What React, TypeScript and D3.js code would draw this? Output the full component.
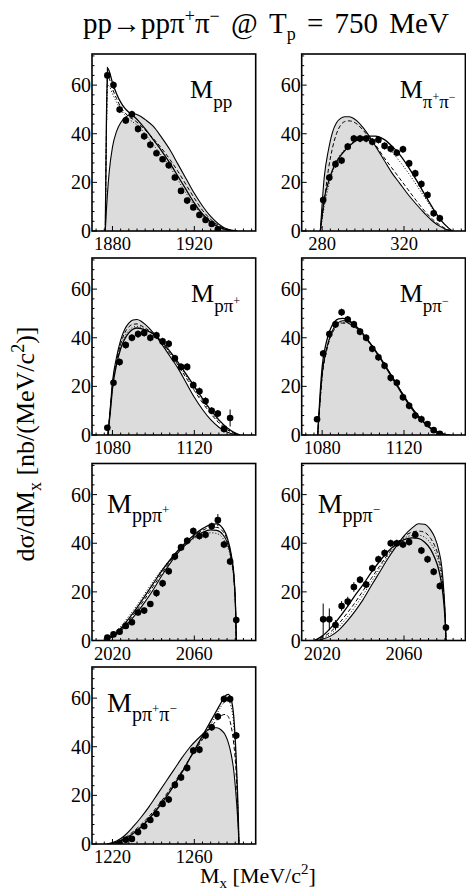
import React, { useEffect, useRef } from "react";
import * as d3 from "d3";

// ---------- data ----------
// M_pp
const ppMass = [1877.5, 1880.5, 1883.5, 1886.5, 1889.5, 1892.5, 1895.5, 1898.5, 1901.5, 1904.5, 1907.5, 1910.5, 1913.5, 1916.5, 1919.5, 1922.5, 1925.5, 1928.5, 1931.5];
const ppCount = [64, 60, 50, 45.5, 48, 42, 39, 35.5, 32, 29.5, 27, 22, 16.5, 12.5, 9.7, 6.6, 4.5, 2.9, 0.7];
const ppErr = [3.5, 1.5, 1.5, 1.5, 1.5, 1.5, 1.5, 1.5, 1.2, 1.2, 1.2, 1.2, 1.2, 1.2, 1, 1, 1, 1, 1];
const ppGrid = [1876.5, 1877, 1877.6, 1878.5, 1880, 1882, 1884, 1886, 1888, 1890, 1893, 1896, 1900, 1904, 1908, 1912, 1916, 1920, 1924, 1928, 1932, 1936, 1941];
const ppPhase = [0, 8, 16, 25, 34.5, 41, 44.5, 46.5, 47.7, 48.3, 47.5, 45.8, 43, 38.5, 33.5, 27.5, 21.5, 15.5, 10.3, 6, 2.8, 0.8, 0];
const ppSolid = [0, 42, 67, 65.5, 61, 56.5, 53, 50.5, 48.8, 47.5, 45, 42, 37.5, 33, 28, 22.5, 17, 11.5, 7, 3.8, 1.6, 0.5, 0];
const ppDashed = [0, 38, 63.5, 62.5, 58.5, 54.5, 51, 48.8, 47, 46, 44, 41.5, 38, 34, 29.5, 24.5, 19, 13.5, 8.5, 4.8, 2.2, 0.7, 0];
const ppDotted = [0, 36, 60, 59.5, 56.5, 53, 50, 47.8, 46, 44.8, 42.8, 39.8, 35.5, 31, 26.5, 21, 15.5, 10.5, 6.3, 3.3, 1.3, 0.4, 0];

// M_pi+pi-
const pipiMass = [280.5, 283.5, 286.5, 289.5, 292.5, 295.5, 298.5, 301.5, 304.5, 307.5, 310.5, 313.5, 316.5, 319.5, 322.5, 325.5, 328.5, 331.5, 334.5, 337.5];
const pipiCount = [12.7, 22, 27.5, 29, 34.7, 38, 38, 38, 36.7, 37.5, 35, 33.8, 32.2, 33.6, 27.8, 23.7, 19.3, 14.8, 7.3, 5.2];
const pipiErr = [1.5, 1.5, 1.5, 1.5, 1.5, 1.5, 1.5, 1.5, 1.5, 1.5, 1.5, 1.5, 1.5, 1.5, 1.5, 1.5, 1.5, 1.5, 1.5, 1.5];
const pipiGrid = [279.1, 281, 283, 285, 287, 289, 291, 293, 295, 297, 300, 303, 306, 310, 314, 318, 322, 326, 330, 334, 338, 341, 343.6];
const pipiPhase = [0, 22, 33, 40.5, 44.5, 46.3, 47, 47, 46.5, 45.3, 42.5, 39, 35, 29.5, 24, 19.5, 15, 11, 7.3, 4, 1.7, 0.5, 0];
const pipiSolid = [0, 13, 20, 25, 28.5, 31, 33, 34.8, 36.2, 37.3, 38.5, 39, 39, 37.8, 35, 31.3, 26.5, 21, 15.2, 9.5, 4.5, 1.8, 0];
const pipiDashed = [0, 12, 25, 34, 40, 43.5, 45, 45.3, 45, 44, 41.5, 38.5, 35.5, 30.5, 26, 21.5, 17, 12.5, 8.3, 4.8, 2.2, 0.7, 0];
const pipiDotted = [0, 10, 18, 24, 28.5, 31.5, 33.5, 35.3, 36.5, 37.3, 38, 38, 37.5, 35.5, 32.5, 28.5, 24, 19, 14, 9, 4.5, 1.8, 0];

// M_p pi+
const ppipMass = [1077.5, 1080.5, 1083.5, 1086.5, 1089.5, 1092.5, 1095.5, 1098.5, 1101.5, 1104.5, 1107.5, 1110.5, 1113.5, 1116.5, 1119.5, 1122.5, 1125.5, 1128.5, 1131.5, 1134.5, 1137.5];
const ppipCount = [3, 21.5, 30, 37, 40, 41.5, 42, 40, 41, 38.5, 37.5, 31.5, 28, 28, 20.5, 18, 14, 10, 8.8, 2.5, 7];
const ppipErr = [1.2, 1.5, 1.5, 1.5, 1.5, 1.5, 1.5, 1.5, 1.5, 1.5, 1.5, 1.5, 1.5, 1.5, 1.5, 1.5, 1.5, 1.5, 1.5, 1.5, 3.5];
const ppipGrid = [1077.8, 1079, 1080, 1082, 1084, 1086, 1088, 1090, 1092, 1094, 1096, 1100, 1104, 1108, 1112, 1116, 1120, 1124, 1128, 1132, 1136, 1140, 1142.3];
const ppipPhase = [0, 12, 22, 32, 39, 43.5, 46, 47.3, 47.5, 46.8, 45.5, 42, 37.5, 32.5, 27.5, 21.5, 15.5, 10.5, 6.3, 3.2, 1.2, 0.2, 0];
const ppipSolid = [0, 10, 19, 29, 35.5, 39.5, 42, 43.5, 44, 43.8, 43.2, 41.5, 38.5, 34.5, 30, 25, 20, 15, 10.3, 6.2, 3, 0.8, 0];
const ppipDashed = [0, 11, 20.5, 30.5, 37.5, 42, 44.5, 45.5, 45.7, 45, 44, 41.5, 38, 33.5, 28.8, 23.5, 18.3, 13.3, 8.8, 5, 2.2, 0.5, 0];
const ppipDotted = [0, 10.5, 20, 30, 36.5, 40.5, 43, 44.3, 44.7, 44.3, 43.5, 41.5, 38.3, 34, 29.3, 24.3, 19.2, 14.2, 9.5, 5.6, 2.6, 0.6, 0];

// M_p pi-
const ppimMass = [1077.5, 1080.5, 1083.5, 1086.5, 1089.5, 1092.5, 1095.5, 1098.5, 1101.5, 1104.5, 1107.5, 1110.5, 1113.5, 1116.5, 1119.5, 1122.5, 1125.5, 1128.5, 1131.5, 1134.5, 1137.5];
const ppimCount = [6.5, 33.5, 41.5, 45.5, 50.5, 47.5, 45.5, 42.5, 40, 35.5, 32, 28.5, 23.5, 21.5, 15.5, 12, 8, 6.5, 4.5, 2, 0.5];
const ppimErr = [1.2, 1.5, 1.5, 1.5, 1.5, 1.5, 1.5, 1.5, 1.5, 1.5, 1.5, 1.5, 1.5, 1.5, 1.5, 1.5, 1.5, 1.5, 1.2, 1, 1];
const ppimGrid = [1077.8, 1079, 1080, 1082, 1084, 1086, 1088, 1090, 1092, 1094, 1096, 1100, 1104, 1108, 1112, 1116, 1120, 1124, 1128, 1132, 1136, 1140, 1142.3];
const ppimPhase = [0, 15, 25, 35, 41, 44.5, 46.3, 47, 47, 46.3, 45, 41.5, 37, 32, 26.5, 21, 15.5, 10.5, 6.5, 3.3, 1.2, 0.2, 0];
const ppimSolid = [0, 17, 28, 38, 43.5, 46.5, 47.8, 48, 47.6, 46.6, 45.2, 41.6, 37.2, 32.3, 27, 21.5, 16, 11, 6.8, 3.5, 1.3, 0.25, 0];
const ppimDashed = [0, 14, 24, 34, 40, 43.5, 45.3, 46, 46, 45.4, 44.3, 41, 36.8, 32, 26.8, 21.3, 15.8, 10.8, 6.7, 3.4, 1.3, 0.2, 0];
const ppimDotted = [0, 14.5, 24.5, 34.5, 40.5, 44, 45.7, 46.3, 46.3, 45.6, 44.5, 41.2, 37, 32.2, 27, 21.6, 16.2, 11.2, 7, 3.6, 1.4, 0.3, 0];

// M_pp pi+
const pppipMass = [2017.5, 2020.5, 2023.5, 2026.5, 2029.5, 2032.5, 2035.5, 2038.5, 2041.5, 2044.5, 2047.5, 2050.5, 2053.5, 2056.5, 2059.5, 2062.5, 2065.5, 2068.5, 2071.5, 2074.5, 2077.5, 2080.5];
const pppipCount = [1.2, 2.5, 3.6, 6, 7.5, 11.5, 12.3, 15, 19.5, 23.5, 28.5, 34.5, 38.3, 41, 45, 43, 43.5, 47, 49.5, 39.5, 32.5, 8.4];
const pppipErr = [1, 1, 1, 1, 1.2, 1.2, 1.2, 1.2, 1.5, 1.5, 1.5, 1.5, 1.5, 1.5, 1.5, 1.5, 1.5, 1.5, 2.5, 1.5, 1.5, 1.5];
const pppipGrid = [2016.1, 2020, 2024, 2028, 2032, 2036, 2040, 2044, 2048, 2052, 2056, 2060, 2064, 2068, 2071, 2074, 2076, 2078, 2079.5, 2080.2, 2080.5];
const pppipPhase = [0, 1.5, 4, 7.5, 11.5, 16, 21, 26.5, 31.5, 36, 39.5, 42.5, 44.5, 45.5, 45.3, 43.5, 40.5, 34, 24, 12, 0];
const pppipSolid = [0, 2, 5, 9, 13.5, 18.5, 23.5, 28.5, 33, 37, 40.5, 43.5, 46, 47.7, 48, 46, 42.5, 35.5, 25, 12, 0];
const pppipDashed = [0, 1.8, 4.5, 8.3, 12.5, 17.3, 22.3, 27.5, 32.3, 36.5, 40, 43, 45.3, 46.5, 46.5, 44.8, 41.5, 34.8, 24.5, 12, 0];
const pppipDotted = [0, 2.5, 5.8, 10, 14.5, 19.5, 24.5, 29, 33, 36.5, 39.5, 42, 43.5, 44.3, 44, 42, 39, 33, 23.5, 11.5, 0];

// M_pp pi-
const pppimMass = [2020.5, 2023.5, 2026.5, 2029.5, 2032.5, 2035.5, 2038.5, 2041.5, 2044.5, 2047.5, 2050.5, 2053.5, 2056.5, 2059.5, 2062.5, 2065.5, 2068.5, 2071.5, 2074.5, 2077.5, 2080.5];
const pppimCount = [8.7, 8.7, 6.4, 14.2, 16, 22, 25, 23, 29.7, 33.4, 36, 40, 40, 39.5, 40.5, 43.5, 37, 33.4, 28.3, 22.4, 5.3];
const pppimErr = [6.5, 4.5, 2, 2, 2, 2, 1.5, 1.5, 1.5, 1.5, 1.5, 1.5, 1.5, 1.5, 1.5, 1.5, 1.5, 1.5, 1.5, 1.5, 1.5];
const pppimGrid = [2016.1, 2020, 2024, 2028, 2032, 2036, 2040, 2044, 2048, 2052, 2056, 2060, 2064, 2067, 2070, 2073, 2075, 2077, 2078.5, 2079.5, 2080.2, 2080.5];
const pppimPhase = [0, 0.5, 1.8, 4.2, 7.8, 12, 16.8, 22.5, 28, 33.5, 38.5, 43, 46.3, 48, 47.8, 45.5, 42.5, 37, 30, 20, 9, 0];
const pppimSolid = [0, 1.8, 5, 9, 13.5, 18.5, 23, 28, 32.5, 36.5, 39.5, 41.5, 42.2, 42, 40.5, 37.5, 34, 29, 22.5, 15, 6.5, 0];
const pppimDashed = [0, 1.2, 3.5, 6.8, 11, 15.5, 20.5, 25.5, 30.5, 35.3, 39.5, 42.8, 44.6, 45, 44.5, 42, 39, 34, 27, 18, 8, 0];
const pppimDotted = [0, 0.8, 2.6, 5.5, 9.3, 13.8, 18.8, 24, 29.5, 34.5, 39, 42, 43.2, 43.3, 42.5, 40, 37, 32, 25.5, 17, 7.5, 0];

// M_p pi+ pi-
const ppipimMass = [1223.5, 1226.5, 1229.5, 1232.5, 1235.5, 1238.5, 1241.5, 1244.5, 1247.5, 1250.5, 1253.5, 1256.5, 1259.5, 1262.5, 1265.5, 1268.5, 1271.5, 1274.5, 1277.5, 1280.5];
const ppipimCount = [0.3, 1.7, 2.1, 4.9, 7.3, 9.9, 12.4, 16.5, 18.3, 24.3, 27.4, 31.3, 38.4, 38.8, 44.6, 48, 52.4, 59.6, 59.6, 44.6];
const ppipimErr = [1, 1, 1, 1, 1, 1.2, 1.2, 1.2, 1.5, 1.5, 1.5, 1.5, 1.5, 1.5, 1.5, 1.5, 1.5, 1.5, 1.5, 1.5];
const ppipimGrid = [1217.4, 1222, 1226, 1230, 1234, 1238, 1242, 1246, 1250, 1254, 1258, 1262, 1266, 1269, 1271, 1273, 1275, 1276.5, 1278, 1279.3, 1280.3, 1281, 1281.5, 1281.8];
const ppipimPhase = [0, 1.2, 3.5, 7, 11, 15.5, 20.5, 25.5, 30.5, 35.5, 40, 43.5, 46.5, 47.8, 47.8, 47, 45, 42, 37, 30, 21, 13, 6, 0];
const ppipimSolid = [0, 0.6, 2, 4.2, 7, 10.5, 14.5, 19, 24, 29.5, 35.5, 41.5, 47.5, 52, 55, 58, 60.8, 61.5, 59.5, 52, 38, 24, 11, 0];
const ppipimDashed = [0, 0.8, 2.5, 5, 8, 11.5, 15.5, 20, 25, 30, 35.5, 40.5, 45.5, 49, 51, 52.7, 53.3, 52.5, 48.5, 41, 31, 19, 9, 0];
const ppipimDotted = [0, 0.7, 2.2, 4.5, 7.5, 11, 15, 19.5, 24.5, 30, 35.5, 41, 46.5, 50.5, 53.5, 56.5, 58.5, 58.8, 56.5, 49, 36, 22.5, 10.5, 0];

// axis ranges and labelled ticks
const ppRange = [1870, 1950], ppTicks = [1880, 1920];
const pipiRange = [270, 350], pipiTicks = [280, 320];
const ppiRange = [1070, 1150], ppiTicks = [1080, 1120];
const pppiRange = [2010, 2090], pppiTicks = [2020, 2060];
const ppipimRange = [1210, 1290], ppipimTicks = [1220, 1260];
const yTicks = [0, 20, 40, 60];

const FONT = "'Liberation Serif', 'Times New Roman', serif";
const GRAY = "#dcdcdc";

// [text, baseline shift, font size]
type Part = [string, number, number];

const labelTop = (sub: Part[]): Part[] => [["M", 0, 26], ...sub];
const labelBig = (sub: Part[]): Part[] => [["M", 0, 28], ...sub];

const panels = [
  { col: 0, row: 0, range: ppRange, ticks: ppTicks, mass: ppMass, count: ppCount, err: ppErr, grid: ppGrid, phase: ppPhase, solid: ppSolid, dashed: ppDashed, dotted: ppDotted,
    label: labelTop([["pp", 10, 19]]), lx: 98, ly: 44 },
  { col: 1, row: 0, range: pipiRange, ticks: pipiTicks, mass: pipiMass, count: pipiCount, err: pipiErr, grid: pipiGrid, phase: pipiPhase, solid: pipiSolid, dashed: pipiDashed, dotted: pipiDotted,
    label: labelTop([["π", 10, 19], ["+", 3, 12], ["π", 10, 19], ["−", 3, 12]]), lx: 98, ly: 44 },
  { col: 0, row: 1, range: ppiRange, ticks: ppiTicks, mass: ppipMass, count: ppipCount, err: ppipErr, grid: ppipGrid, phase: ppipPhase, solid: ppipSolid, dashed: ppipDashed, dotted: ppipDotted,
    label: labelTop([["pπ", 10, 19], ["+", 3, 12]]), lx: 99, ly: 44 },
  { col: 1, row: 1, range: ppiRange, ticks: ppiTicks, mass: ppimMass, count: ppimCount, err: ppimErr, grid: ppimGrid, phase: ppimPhase, solid: ppimSolid, dashed: ppimDashed, dotted: ppimDotted,
    label: labelTop([["pπ", 10, 19], ["−", 3, 12]]), lx: 98, ly: 44 },
  { col: 0, row: 2, range: pppiRange, ticks: pppiTicks, mass: pppipMass, count: pppipCount, err: pppipErr, grid: pppipGrid, phase: pppipPhase, solid: pppipSolid, dashed: pppipDashed, dotted: pppipDotted,
    label: labelBig([["ppπ", 9, 20], ["+", 1, 13]]), lx: 15, ly: 49 },
  { col: 1, row: 2, range: pppiRange, ticks: pppiTicks, mass: pppimMass, count: pppimCount, err: pppimErr, grid: pppimGrid, phase: pppimPhase, solid: pppimSolid, dashed: pppimDashed, dotted: pppimDotted,
    label: labelBig([["ppπ", 9, 20], ["−", 1, 13]]), lx: 16, ly: 49 },
  { col: 0, row: 3, range: ppipimRange, ticks: ppipimTicks, mass: ppipimMass, count: ppipimCount, err: ppipimErr, grid: ppipimGrid, phase: ppipimPhase, solid: ppipimSolid, dashed: ppipimDashed, dotted: ppipimDotted,
    label: labelBig([["pπ", 9, 20], ["+", 1, 13], ["π", 9, 20], ["−", 1, 13]]), lx: 15, ly: 45 },
];

const colX = [92, 301.7];
const rowY = [54, 258, 463.5, 667];
const PW = 163.7;
const PH = 177;
const Y_MAX = 72.8;

function rich(sel: any, x: number, y: number, parts: Part[], anchor = "start") {
  const t = sel
    .append("text")
    .attr("x", x)
    .attr("y", y)
    .attr("text-anchor", anchor)
    .attr("font-family", FONT)
    .attr("fill", "#000")
    .style("white-space", "pre");
  let prev = 0;
  parts.forEach(([s, shift, fs]) => {
    t.append("tspan").attr("dy", shift - prev).attr("font-size", fs).text(s);
    prev = shift;
  });
  return t;
}

const App = () => {
  const svgRef = useRef<SVGSVGElement>(null);

  useEffect(() => {
    const svg = d3.select(svgRef.current);
    svg.selectAll("*").remove();

    // title
    rich(svg, 266, 33, [
      ["pp→ppπ", 0, 29],
      ["+", -11, 18],
      ["π", 0, 29],
      ["−", -11, 18],
      [" @ T", 0, 29],
      ["p", 7, 18],
      [" = 750 MeV", 0, 29],
    ], "middle").style("word-spacing", "4px");

    // y-axis title
    const yt = svg.append("g").attr("transform", "translate(34,444) rotate(-90)");
    rich(yt, 0, 0, [
      ["dσ/dM", 0, 26],
      ["x", 7, 18],
      [" [nb/(MeV/c", 0, 26],
      ["2", -10, 18],
      [")]", 0, 26],
    ], "middle");

    // x-axis title
    rich(svg, 200, 883, [
      ["M", 0, 22],
      ["x", 5, 15],
      [" [MeV/c", 0, 22],
      ["2", -9, 15],
      ["]", 0, 22],
    ]);

    panels.forEach((p, pi) => {
      const x0 = colX[p.col];
      const y0 = rowY[p.row];
      const g = svg.append("g").attr("transform", `translate(${x0},${y0})`);

      const x = d3.scaleLinear().domain(p.range).range([0, PW]);
      const y = d3.scaleLinear().domain([0, Y_MAX]).range([PH, 0]);

      const clipId = `clip${pi}`;
      g.append("clipPath").attr("id", clipId).append("rect").attr("width", PW).attr("height", PH);
      const plot = g.append("g").attr("clip-path", `url(#${clipId})`);

      const area = d3
        .area<number>()
        .x((d, i) => x(p.grid[i]))
        .y0(y(0))
        .y1((d) => y(d))
        .curve(d3.curveMonotoneX);
      const line = d3
        .line<number>()
        .x((d, i) => x(p.grid[i]))
        .y((d) => y(d))
        .curve(d3.curveMonotoneX);

      plot.append("path").attr("d", area(p.phase)).attr("fill", GRAY);
      plot.append("path").attr("d", line(p.phase)).attr("fill", "none").attr("stroke", "#000").attr("stroke-width", 1.1);
      plot.append("path").attr("d", line(p.dotted)).attr("fill", "none").attr("stroke", "#000").attr("stroke-width", 1).attr("stroke-dasharray", "1,2");
      plot.append("path").attr("d", line(p.dashed)).attr("fill", "none").attr("stroke", "#000").attr("stroke-width", 1).attr("stroke-dasharray", "4,2.5");
      plot.append("path").attr("d", line(p.solid)).attr("fill", "none").attr("stroke", "#000").attr("stroke-width", 1.3);

      // error bars + points
      p.mass.forEach((m, i) => {
        plot
          .append("line")
          .attr("x1", x(m))
          .attr("x2", x(m))
          .attr("y1", y(p.count[i] - p.err[i]))
          .attr("y2", y(p.count[i] + p.err[i]))
          .attr("stroke", "#000")
          .attr("stroke-width", 1);
      });
      plot
        .selectAll("circle.pt")
        .data(p.mass)
        .enter()
        .append("circle")
        .attr("class", "pt")
        .attr("cx", (d) => x(d))
        .attr("cy", (d, i) => y(p.count[i]))
        .attr("r", 3.3)
        .attr("fill", "#000");

      // ticks (inside the frame)
      const yMinor = d3.range(0, Y_MAX, 4);
      yMinor.forEach((v) => {
        const major = yTicks.includes(v);
        g.append("line")
          .attr("x1", 0)
          .attr("x2", major ? 5 : 2.5)
          .attr("y1", y(v))
          .attr("y2", y(v))
          .attr("stroke", "#000")
          .attr("stroke-width", 1);
      });
      const xMinor = d3.range(p.ticks[0] - 8, p.range[1], 4).filter((v) => v > p.range[0]);
      xMinor.forEach((v) => {
        const major = p.ticks.includes(v);
        g.append("line")
          .attr("x1", x(v))
          .attr("x2", x(v))
          .attr("y1", PH)
          .attr("y2", PH - (major ? 5 : 2.5))
          .attr("stroke", "#000")
          .attr("stroke-width", 1);
      });

      // frame
      g.append("rect")
        .attr("width", PW)
        .attr("height", PH)
        .attr("fill", "none")
        .attr("stroke", "#000")
        .attr("stroke-width", 1.6);

      // tick labels
      yTicks.forEach((v) => {
        g.append("text")
          .attr("x", -1)
          .attr("y", y(v) + 7)
          .attr("text-anchor", "end")
          .attr("font-family", FONT)
          .attr("font-size", 20)
          .text(v);
      });
      p.ticks.forEach((v) => {
        g.append("text")
          .attr("x", x(v))
          .attr("y", PH + 19)
          .attr("text-anchor", "middle")
          .attr("font-family", FONT)
          .attr("font-size", 18.5)
          .text(v);
      });

      // panel label
      rich(g, p.lx, p.ly, p.label);
    });
  }, []);

  return (
    <svg
      ref={svgRef}
      width={466}
      height={890}
      style={{ position: "absolute", left: 0, top: 0, background: "#fff" }}
    />
  );
};

export default App;
